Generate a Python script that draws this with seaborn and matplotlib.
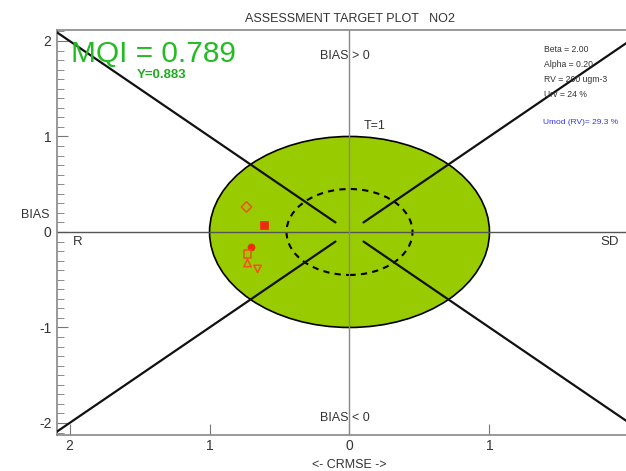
import matplotlib
matplotlib.use("Agg")

import matplotlib.pyplot as plt
import numpy as np
import pandas as pd
import seaborn as sns
from matplotlib.patches import Circle

# values
crmse = [-0.736, -0.614, -0.707, -0.729, -0.729, -0.657]
bias = [0.262, 0.073, -0.157, -0.230, -0.325, -0.387]
marker_kind = ["D", "s", "o", "s", "^", "v"]
marker_filled = [False, True, True, False, False, False]

mqi = 0.789
mqi_y = 0.883
params = ["Beta = 2.00", "Alpha = 0.20", "RV = 200 ugm-3", "Urv = 24 %"]
umod = "Umod (RV)= 29.3 %"

x_ticks = [-2, -1, 0, 1, 2]
y_ticks = [-2, -1, 0, 1, 2]

sns.set_style("ticks")
plt.rcParams["font.family"] = ["Liberation Sans", "DejaVu Sans"]
plt.rcParams["axes.unicode_minus"] = False

fig = plt.figure(figsize=(6.26, 4.71), dpi=100)
ax = fig.add_axes([57 / 626, 1 - 435 / 471, 585 / 626, 405 / 471])
ax.set_xlim(-2.09, 2.09)
ax.set_ylim(-2.126, 2.115)

green = "#99cc00"
ax.add_patch(Circle((0, 0), 1.0, facecolor=green, edgecolor="black", lw=1.2, zorder=1))
ax.add_patch(Circle((0, 0), 0.45, facecolor="none", edgecolor="black", lw=1.5,
                    ls=(0, (3, 2.5)), zorder=2))

# diagonal target lines, cut short near the centre
for sx in (-1, 1):
    for sy in (-1, 1):
        ax.plot([0.1 * sx, 2.3 * sx], [0.1 * sy, 2.3 * sy], color="#111111", lw=1.6, zorder=3)

ax.axhline(0, color="#555555", lw=1.0, zorder=2.5)
ax.axvline(0, color="#888888", lw=1.0, zorder=2.5)

df = pd.DataFrame({"crmse": crmse, "bias": bias, "marker": marker_kind, "filled": marker_filled})
red = "#ee2a10"
for _, row in df.iterrows():
    size = 26 if row["marker"] == "o" else 28
    if row["filled"]:
        sns.scatterplot(x=[row["crmse"]], y=[row["bias"]], marker=row["marker"], s=size,
                        color=red, edgecolor=red, linewidth=0.5, ax=ax, zorder=5)
    else:
        sns.scatterplot(x=[row["crmse"]], y=[row["bias"]], marker=row["marker"], s=size,
                        facecolors="none", edgecolor="#f0501a", linewidth=1.1, ax=ax, zorder=5)

ax.set_xticks(x_ticks)
ax.set_xticklabels([str(abs(t)) for t in x_ticks])
ax.set_yticks(y_ticks)
ax.set_yticklabels([str(t) for t in y_ticks])
ax.set_yticks(np.arange(-2.1, 2.11, 0.1), minor=True)
ax.tick_params(axis="both", which="major", direction="in", length=8, color="#777777",
               labelsize=10, labelcolor="#333333")
ax.tick_params(axis="y", which="minor", direction="in", length=5, color="#777777")
ax.tick_params(axis="x", pad=3)
ax.tick_params(axis="y", pad=4)

for side in ("left", "bottom", "top"):
    ax.spines[side].set_color("#888888")
    ax.spines[side].set_linewidth(1.2)
ax.spines["right"].set_visible(False)

ax.set_title("ASSESSMENT TARGET PLOT   NO2", fontsize=9, color="#333333", pad=6)
ax.set_xlabel("<- CRMSE ->", fontsize=9, color="#333333", labelpad=4)
ax.set_ylabel("BIAS", fontsize=9, color="#333333", rotation=0, ha="center", va="center")
ax.yaxis.set_label_coords(-0.038, 0.543)

ax.text(-1.99, 1.86, f"MQI = {mqi:.3f}", fontsize=21.5, color="#22bb22",
        fontweight="light", va="center")
ax.text(-1.52, 1.64, f"Y={mqi_y:.3f}", fontsize=9.5, color="#22aa22", fontweight="bold", va="center")

ax.text(-0.21, 1.84, "BIAS > 0", fontsize=9, color="#333333", va="center")
ax.text(0.1, 1.11, "T=1", fontsize=9, color="#333333", va="center")
ax.text(-0.21, -1.95, "BIAS < 0", fontsize=9, color="#333333", va="center")
ax.text(-1.98, -0.1, "R", fontsize=9.5, color="#333333", va="center")
ax.text(1.79, -0.1, "SD", fontsize=9.5, color="#333333", va="center")

for i, line in enumerate(params):
    ax.text(1.39, 1.91 - i * 0.157, line, fontsize=6.2, color="#333333", va="center")
ax.text(1.38, 1.15, umod, fontsize=6.0, color="#3333ee", va="center")

fig.savefig("out.png", dpi=100)
